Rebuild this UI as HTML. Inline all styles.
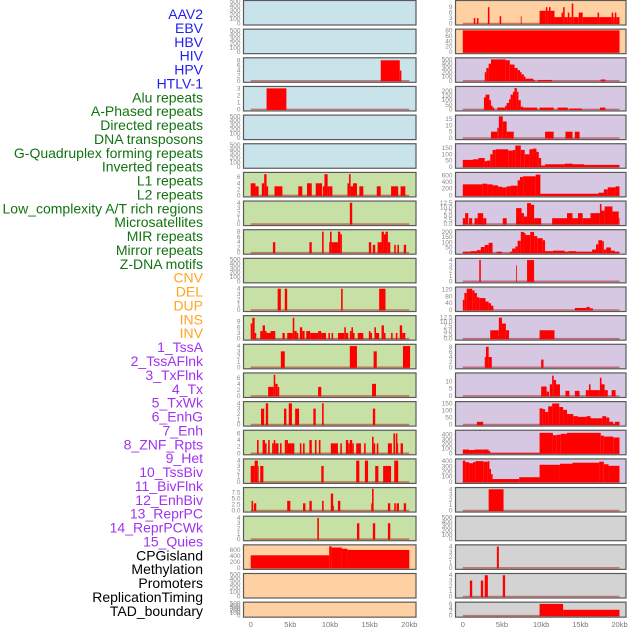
<!DOCTYPE html>
<html><head><meta charset="utf-8"><style>
html,body{margin:0;padding:0;background:#fff;width:630px;height:630px;overflow:hidden}
svg{display:block;font-family:"Liberation Sans",sans-serif}
</style></head><body>
<svg id="chart" width="630" height="630" viewBox="0 0 630 630" xmlns="http://www.w3.org/2000/svg">
<g id="labels"></g>
<g id="left"></g>
<g id="right"></g>
<g id="xaxes"></g>
</svg>
<script>
const featureLabels=["AAV2","EBV","HBV","HIV","HPV","HTLV-1","Alu repeats","A-Phased repeats","Directed repeats","DNA transposons","G-Quadruplex forming repeats","Inverted repeats","L1 repeats","L2 repeats","Low_complexity A/T rich regions","Microsatellites","MIR repeats","Mirror repeats","Z-DNA motifs","CNV","DEL","DUP","INS","INV","1_TssA","2_TssAFlnk","3_TxFlnk","4_Tx","5_TxWk","6_EnhG","7_Enh","8_ZNF_Rpts","9_Het","10_TssBiv","11_BivFlnk","12_EnhBiv","13_ReprPC","14_ReprPCWk","15_Quies","CPGisland","Methylation","Promoters","ReplicationTiming","TAD_boundary"];
const featureGroups=[6,13,5,15,5];
const groupColors=["#1f1ff0","#127312","#ffa51f","#a033f0","#000000"];
const xTickLabels=["0","5kb","10kb","15kb","20kb"];
const xTickValues=[0,5,10,15,20];
const E500=[0,100,200,300,400,500];
const leftBg=["b","b","b","b","b","b","g","g","g","g","g","g","g","g","g","g","g","g","g","o","o","o"];
const leftMax=[500,500,8.5,3.1,500,500,7.2,4.1,8.3,500,4.1,11.5,4.1,7.2,4.1,6.6,4.1,9,4.1,730,500,500];
const leftTicks=[E500,E500,[0,2,4,6,8],[0,1,2,3],E500,E500,[0,2,4,6],[0,1,2,3,4],[0,2,4,6,8],E500,[0,1,2,3,4],[0,3,6,9],[0,1,2,3,4],[0,2,4,6],[0,1,2,3,4],[0,2,4,6],[0,1,2,3,4],[0,2.5,5,7.5],[0,1,2,3,4],[0,200,400,600],E500,E500];
const leftSegs=[[],[],
[[16.4,18.8,8],[18.8,19.0,4]],
[[2.0,4.5,3]],
[],[],
[[0,0.6,4],[0.6,1.0,3],[1.4,1.7,4],[1.7,2.0,7],[2.0,2.2,3],[3.0,4.0,3],[6.0,6.5,3],[7.1,7.7,4],[8.2,9.0,4],[9.1,9.3,3],[9.3,9.7,7],[9.7,9.9,3],[9.9,10.3,3],[12.2,12.4,4],[12.4,12.6,7],[12.6,12.9,3],[12.9,13.4,4],[13.7,14.2,3],[15.9,16.4,3],[17.7,18.6,3],[18.9,19.5,3]],
[[12.5,12.8,4]],
[[2.8,3.1,4],[7.4,7.7,4],[9.0,9.2,8],[9.9,10.0,4],[10.0,10.2,8],[10.2,11.0,4],[11.0,11.3,8],[11.3,11.5,7],[14.9,15.2,4],[15.4,15.7,3],[16.0,16.5,4],[16.5,16.8,8],[16.8,17.0,7],[17.0,17.3,8],[17.3,17.6,4],[18.1,18.3,3],[18.5,18.7,3],[19.3,19.6,3]],
[],
[[3.4,3.8,4],[4.3,4.6,4],[11.4,11.6,4],[16.2,17.0,4]],
[[0,0.2,8],[0.2,0.5,11],[0.5,0.7,3],[1.2,1.5,4],[1.5,1.8,7],[1.8,2.0,4],[2.0,2.5,3],[2.5,3.1,4],[4.0,4.3,3],[4.6,5.3,3],[5.3,5.5,11],[5.5,5.8,4],[5.8,6.0,3],[6.2,6.5,6],[6.5,6.8,4],[7.0,7.5,4],[7.5,8.5,3],[8.5,8.9,4],[8.9,9.5,3],[9.8,10.0,3],[10.2,10.4,3],[11.0,11.8,3],[11.8,12.0,6],[12.0,12.3,3],[12.5,12.7,4],[12.7,12.9,6],[12.9,13.1,3],[13.5,14.2,3],[14.9,15.1,4],[15.1,15.3,3],[15.6,15.8,6],[15.8,16.2,3],[16.5,16.8,7],[16.8,17.0,3],[17.7,17.9,3],[18.3,18.5,3],[18.8,19.1,7],[19.1,19.5,3]],
[[3.8,4.3,3],[12.5,13.4,4],[15.5,15.9,3],[19.2,20.1,4]],
[[2.2,2.9,3],[2.9,3.1,7],[3.1,3.4,4],[3.4,3.6,3],[8.5,8.9,3],[15.3,15.8,4]],
[[1.3,1.7,3],[1.9,2.2,4],[4.2,4.5,3],[4.8,5.2,4],[5.6,6.1,3],[7.9,8.2,3],[9.0,9.2,4],[15.4,15.7,3]],
[[0.8,1.0,4],[1.5,1.8,4],[1.8,2.0,3],[2.2,2.4,4],[2.7,2.9,3],[2.9,3.1,4],[3.1,3.5,3],[3.7,3.9,3],[4.3,4.5,4],[4.5,4.7,4],[4.7,5.2,3],[5.2,5.5,3],[6.2,6.4,3],[6.6,6.8,3],[7.4,7.7,4],[8.1,8.3,4],[8.6,8.8,4],[10.1,11.0,3],[11.3,11.5,3],[12.0,12.3,4],[12.3,12.5,3],[12.5,12.8,4],[12.8,13.0,3],[13.3,13.9,3],[14.3,14.5,3],[15.3,15.5,5],[15.5,15.7,3],[15.9,16.1,3],[17.3,17.8,3],[18.0,18.2,6],[18.3,18.5,6],[18.5,18.6,3],[18.9,19.2,3]],
[[0,0.5,3],[0.5,0.9,4],[0.9,1.0,3],[1.2,1.6,3],[8.9,9.2,3],[13.3,13.7,4],[14.4,14.8,4],[15.7,16.1,3],[16.7,17.7,3],[18.1,18.6,4]],
[[0.1,0.3,4],[0.4,0.7,3],[4.6,5.0,4],[6.6,6.9,3],[7.4,7.7,4],[9.0,9.2,4],[10.1,10.4,7],[10.4,10.5,2],[11.0,11.3,4],[15.2,15.3,3],[15.3,15.5,9],[17.3,17.6,3],[18.1,18.3,3],[18.4,18.7,3],[19.3,19.6,3]],
[[8.4,8.6,4],[13.4,13.7,3],[15.4,15.7,3],[17.3,17.6,3]],
[[0,9.9,420],[9.9,10.2,720],[10.2,11.5,680],[11.5,12.2,640],[12.2,20.0,600]],
[],[]];
const rightBg=["o","o","p","p","p","p","p","p","p","p","p","p","p","p","p","p","p","y","y","y","y","y"];
const rightMax=[12,80,510,235,17,175,650,13,210,4.1,128,13,8.5,15,155,470,420,4.1,500,4.1,4.1,6.3];
const rightTicks=[[0,3,6,9],[0,20,40,60,80],E500,[0,50,100,150,200],[0,5,10,15],[0,50,100,150],[0,200,400,600],[0,2.5,5,7.5,10,12.5],[0,50,100,150,200],[0,1,2,3,4],[0,40,80,120],[0,2.5,5,7.5,10,12.5],[0,2,4,6,8],[0,5,10],[0,50,100,150],[0,100,200,300,400],[0,100,200,300,400],[0,1,2,3,4],E500,[0,1,2,3,4],[0,1,2,3,4],[0,2,4,6]];
const rightSegs=[
[[1.4,1.6,3],[1.8,2.0,3],[3.2,3.4,9],[4.7,4.9,4],[7.4,7.5,4],[9.8,10.6,7],[10.6,10.8,9],[10.8,11.0,7],[11.0,11.2,9],[11.2,11.7,7],[11.7,12.6,3.5],[12.6,12.8,6],[12.8,13.0,9],[13.0,13.4,3.5],[13.4,13.6,6],[13.6,13.9,3.5],[13.9,14.1,11],[14.1,14.8,3.5],[14.8,15.3,6],[15.3,17.2,3.5],[17.2,17.4,6],[17.4,19.0,3.5],[19.0,19.2,6],[19.2,19.4,3.5],[19.4,19.6,6],[19.6,20.0,3.5]],
[[0,20,80]],
[[2.8,3.0,200],[3.0,3.3,300],[3.3,3.6,400],[3.6,5.5,500],[5.5,6.0,480],[6.0,6.6,380],[6.6,7.0,300],[7.0,7.3,250],[7.3,7.5,200],[7.5,7.8,150],[7.8,8.0,100],[8.0,9.0,50],[9.0,9.2,20],[9.6,11.4,20],[17.6,18.2,30]],
[[2.7,2.9,130],[2.9,3.4,160],[3.4,3.6,100],[3.6,3.8,40],[3.8,4.0,20],[4.4,5.4,20],[5.4,5.6,40],[5.6,5.9,70],[5.9,6.1,110],[6.1,6.4,160],[6.4,6.6,190],[6.6,6.9,230],[6.9,7.1,190],[7.1,7.4,100],[7.4,7.7,30],[7.7,9.5,20],[9.8,11.6,20],[12.1,13.4,20],[13.6,15.2,10],[17.5,18.2,20]],
[[3.6,4.4,5],[4.4,4.6,8],[4.6,5.1,17],[5.1,5.6,13],[5.6,6.5,5],[10.5,11.6,5],[13.1,14.0,5],[14.3,14.9,5]],
[[0,1.3,55],[1.3,2.0,60],[2.0,2.8,70],[2.8,3.1,45],[3.1,3.5,50],[3.5,3.8,100],[3.8,4.2,135],[4.2,5.8,140],[5.8,6.4,130],[6.4,6.7,135],[6.7,7.4,170],[7.4,7.9,135],[7.9,8.5,100],[8.5,8.9,140],[8.9,9.4,145],[9.4,9.7,120],[9.7,10.0,70],[10.0,10.5,10],[10.5,13.0,20],[13.0,14.0,25],[14.0,15.5,20],[15.5,20.0,15]],
[[0,2.5,330],[2.5,3.1,350],[3.1,3.8,330],[3.8,4.5,300],[4.5,5.0,260],[5.0,5.6,240],[5.6,6.1,270],[6.1,7.0,290],[7.0,7.3,450],[7.3,7.7,550],[7.7,9.3,570],[9.3,9.9,620],[9.9,17.3,50],[17.3,18.0,80],[18.0,18.5,180],[18.5,19.5,240],[19.5,20.0,270]],
[[0,0.3,3.5],[0.3,0.7,6.5],[0.8,1.2,3.5],[1.5,1.9,3.5],[1.9,2.6,6.5],[2.6,3.0,3.5],[5.1,5.6,3.5],[6.8,7.5,9.5],[7.5,7.8,6.5],[7.8,8.2,4.5],[8.2,8.7,12.5],[8.7,9.1,11.5],[9.1,10.0,3.5],[11.4,13.3,3.5],[13.3,14.0,6.5],[14.0,14.7,3.5],[14.7,15.3,6.5],[15.3,16.3,3.5],[16.3,17.5,6.5],[17.5,17.7,12],[17.7,18.1,8],[18.1,19.1,10.5],[19.1,19.9,7.5],[19.9,20.0,3.5]],
[[0,1.0,10],[1.0,1.8,15],[1.8,2.3,25],[2.3,2.8,55],[2.8,3.3,75],[3.3,3.8,95],[4.3,5.0,10],[6.0,6.3,10],[6.3,6.7,40],[6.7,7.0,60],[7.0,7.4,115],[7.4,7.8,200],[7.8,8.0,190],[8.0,8.6,170],[8.6,9.1,200],[9.1,9.5,160],[9.5,10.2,140],[10.2,10.5,120],[10.5,11.5,15],[11.5,13.0,20],[13.0,13.5,10],[13.5,14.5,15],[14.5,16.5,10],[16.5,17.0,30],[17.0,17.3,80],[17.3,17.8,120],[17.8,18.0,110],[18.0,18.3,30],[18.3,18.9,50],[18.9,19.4,20],[19.4,20.0,10]],
[[2.1,2.3,4],[6.8,6.9,3],[8.2,9.1,4]],
[[0,0.2,60],[0.2,0.5,100],[0.5,1.2,125],[1.2,1.5,115],[1.5,1.8,100],[1.8,2.1,75],[2.1,2.9,70],[2.9,3.3,50],[3.3,3.6,40],[3.6,3.9,25],[14.3,15.8,12],[15.8,16.2,18],[16.2,16.6,10]],
[[3.5,4.6,5],[4.6,5.0,12.5],[5.0,5.5,9],[5.5,5.9,5],[9.8,11.7,5]],
[[2.8,2.95,4],[2.95,3.3,8],[3.3,3.7,4],[10.0,10.3,3]],
[[10.0,10.7,6.5],[10.7,11.0,3],[11.1,11.4,8],[11.4,11.6,14],[11.6,11.9,11],[11.9,12.4,8],[13.1,13.6,3.5],[14.3,14.9,3.5],[15.7,16.1,4],[16.1,16.3,8],[16.3,17.5,4],[17.5,17.7,12.5],[17.7,18.1,8],[18.1,18.5,4],[19.0,19.5,4]],
[[1.8,2.6,20],[9.8,10.2,115],[10.2,10.5,110],[10.5,10.9,90],[10.9,11.4,130],[11.4,12.3,150],[12.3,12.8,125],[12.8,13.3,105],[13.3,14.1,75],[14.1,14.7,60],[14.7,15.8,55],[15.8,16.3,60],[16.3,17.2,45],[17.2,17.8,45],[17.8,18.3,60],[18.3,18.7,50],[18.7,19.2,20],[19.2,19.4,5],[19.4,20.0,20]],
[[0,0.8,80],[0.8,1.5,70],[1.5,2.5,80],[2.5,3.3,80],[3.3,3.5,50],[3.5,9.8,8],[9.8,11.5,440],[11.5,12.0,390],[12.0,12.5,400],[12.5,13.3,420],[13.3,17.6,440],[17.6,18.0,380],[18.0,19.2,360],[19.2,20.0,340]],
[[0,0.3,410],[0.3,0.8,380],[0.8,1.3,360],[1.3,1.6,380],[1.6,2.6,400],[2.6,3.2,390],[3.2,3.4,400],[3.4,3.6,250],[3.6,3.8,150],[3.8,7.2,55],[7.2,9.8,90],[9.8,12.4,330],[12.4,14.0,350],[14.0,17.4,370],[17.4,18.0,390],[18.0,18.6,340],[18.6,20.0,310]],
[[3.3,5.2,4]],
[],
[[4.35,4.6,4]],
[[0.9,1.2,3],[2.3,2.6,3],[2.8,3.2,4],[5.1,5.4,4]],
[[9.8,12.8,6],[12.8,20.0,3]]];

const NS="http://www.w3.org/2000/svg";
const bgColors={b:"#c9e3eb",g:"#c7e0a6",o:"#ffd0a1",p:"#d6c7e3",y:"#d3d3d3"};
function mk(tag,attrs,parent){const e=document.createElementNS(NS,tag);for(const k in attrs)e.setAttribute(k,attrs[k]);parent.appendChild(e);return e;}

// labels
const lg=document.getElementById('labels');
let gi=0,gc=0;
featureLabels.forEach((t,i)=>{
  while(gc>=featureGroups[gi]){gi++;gc=0;}
  gc++;
  const el=mk('text',{x:203,y:14+i*13.88+5,'text-anchor':'end','font-size':'14',fill:groupColors[gi]},lg);
  el.textContent=t;
  
  
});

function panelTop(i){return 0.5+i*28.65;}
function panelH(i){return i===21?15:24.5;}

function drawColumn(gid,side,x0,x1,z,k20,bgs,maxes,ticks,segs){
  const g=document.getElementById(gid);
  const xs=v=>z+(k20-z)*v/20;
  for(let i=0;i<22;i++){
    const T=panelTop(i),H=panelH(i),B=T+H;
    const pg=mk('g',{},g);
    
    
    const r=mk('rect',{x:x0,y:T,width:x1-x0,height:H,fill:bgColors[bgs[i]],stroke:'#5a5a5a','stroke-width':1.2},pg);
    
    
    const y0=B-1.5,ytop=T+1.2,ymax=maxes[i];
    const ys=v=>y0-(y0-ytop)*v/ymax;
    const tk=ticks[i];
    const dec=tk.some(v=>v%1!==0);
    tk.forEach(v=>{
      const tt=mk('text',{x:x0-3,y:ys(v)+2,'text-anchor':'end','font-size':'6.5',fill:'#888'},pg);
      tt.textContent=dec?v.toFixed(1):String(v);
      
      
    });
    const sg=segs[i];
    if(sg.length){
      const bl=mk('line',{x1:xs(0),x2:xs(20),y1:y0,y2:y0,stroke:'rgba(170,0,0,0.45)','stroke-width':1.6},pg);
      
      
    }
    sg.forEach(s=>{
      const y=ys(s[2]);
      const b=mk('rect',{x:xs(s[0]),y:y,width:Math.max(0.8,xs(s[1])-xs(s[0])),height:y0-y+0.5,fill:'#ff0000'},pg);
      
      
    });
  }
  const xg=document.getElementById('xaxes');
  xTickValues.forEach((v,j)=>{
    const t=mk('text',{x:xs(v),y:627,'text-anchor':'middle','font-size':'7.5',fill:'#777'},xg);
    t.textContent=xTickLabels[j];
    
    
  });
}
drawColumn('left','left',243.5,416,250.7,409.3,leftBg,leftMax,leftTicks,leftSegs);
drawColumn('right','right',455.5,626,462.8,619.5,rightBg,rightMax,rightTicks,rightSegs);
</script>
</body></html>
